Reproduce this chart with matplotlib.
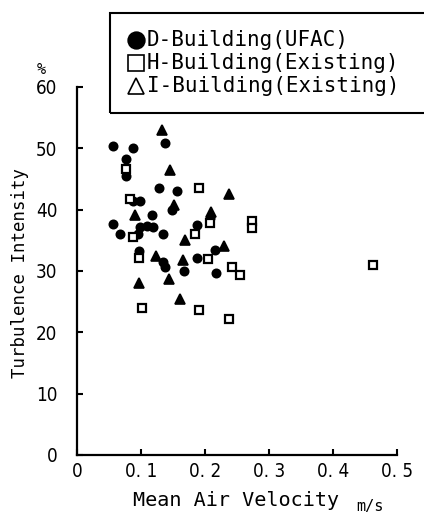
import matplotlib
matplotlib.use("Agg")
import matplotlib.pyplot as plt
from matplotlib.patches import Rectangle
from matplotlib.lines import Line2D

# ---- data ----
d_x = [0.056, 0.087, 0.076, 0.076, 0.1375, 0.128, 0.156, 0.088, 0.098, 0.117,
       0.148, 0.056, 0.067, 0.098, 0.109, 0.118, 0.096, 0.135, 0.097, 0.135,
       0.1375, 0.167, 0.187, 0.208, 0.216, 0.187, 0.217]
d_y = [50.3, 50.0, 48.2, 45.5, 50.8, 43.5, 43.0, 41.4, 41.4, 39.1,
       40.0, 37.6, 36.1, 37.2, 37.4, 37.2, 36.1, 36.0, 33.2, 31.4,
       30.7, 30.0, 37.5, 38.6, 33.5, 32.2, 29.6]

h_x = [0.076, 0.083, 0.087, 0.097, 0.101, 0.190, 0.184, 0.205, 0.273, 0.273,
       0.242, 0.254, 0.191, 0.237, 0.463, 0.208]
h_y = [46.7, 41.8, 35.6, 32.1, 23.9, 43.5, 36.0, 31.9, 38.1, 37.0,
       30.6, 29.3, 23.6, 22.1, 31.0, 37.8]

i_x = [0.133, 0.146, 0.091, 0.152, 0.209, 0.238, 0.169, 0.229, 0.124, 0.166,
       0.097, 0.144, 0.161]
i_y = [53.0, 46.5, 39.1, 40.8, 39.7, 42.5, 35.1, 34.1, 32.5, 31.8,
       28.1, 28.7, 25.5]

x_ticks = [0, 0.1, 0.2, 0.3, 0.4, 0.5]
x_ticklabels = ["0", "0. 1", "0. 2", "0. 3", "0. 4", "0. 5"]
y_ticks = [0, 10, 20, 30, 40, 50, 60]
y_ticklabels = ["0", "10", "20", "30", "40", "50", "60"]
legend_labels = ["D-Building(UFAC)", "H-Building(Existing)", "I-Building(Existing)"]

mono = "DejaVu Sans Mono"

fig = plt.figure(figsize=(4.24, 5.15), dpi=100)
ax = fig.add_axes([77 / 424, 1 - 455 / 515, 320 / 424, 368 / 515])

ax.plot(d_x, d_y, "o", ms=6, mfc="black", mec="black", mew=1.2, ls="none", clip_on=False)
ax.plot(h_x, h_y, "s", ms=5.5, mfc="white", mec="black", mew=1.6, ls="none", clip_on=False)
ax.plot(i_x, i_y, "^", ms=6.5, mfc="black", mec="black", mew=1.2, ls="none", clip_on=False)

ax.set_xlim(0, 0.5)
ax.set_ylim(0, 60)
for s in ["top", "right"]:
    ax.spines[s].set_visible(False)
for s in ["left", "bottom"]:
    ax.spines[s].set_linewidth(1.6)

ax.set_xticks(x_ticks)
ax.set_xticklabels(x_ticklabels, family="DejaVu Sans", stretch="condensed", fontsize=13.5)
ax.set_yticks(y_ticks)
ax.set_yticklabels(y_ticklabels, family="DejaVu Sans", stretch="condensed", fontsize=13.5)
ax.tick_params(axis="x", direction="in", length=4, width=1.5, pad=5)
ax.tick_params(axis="y", direction="in", length=4, width=1.5, pad=14)

fig.text(20 / 424, 1 - 273 / 515, "Turbulence Intensity", rotation=90,
         ha="center", va="center", family=mono, fontsize=12.5)
fig.text(236 / 424, 1 - 500 / 515, "Mean Air Velocity", ha="center", va="center",
         family=mono, fontsize=14.5)
fig.text(370 / 424, 1 - 506 / 515, "m/s", ha="center", va="center",
         family=mono, fontsize=11)
fig.text(41 / 424, 1 - 69 / 515, "%", ha="center", va="center",
         family=mono, fontsize=11)

# legend box
fig.patches.append(Rectangle((110 / 424, 1 - 113 / 515), 0.9, 100 / 515,
                             transform=fig.transFigure, fill=False,
                             lw=1.5, ec="black"))
markers = [("o", "black"), ("s", "white"), ("^", "white")]
rows_y = [40, 63, 86]
for (m, fc), lab, yy in zip(markers, legend_labels, rows_y):
    fig.add_artist(Line2D([136 / 424], [1 - yy / 515], marker=m, ms=12,
                          mfc=fc, mec="black", mew=1.2, ls="none",
                          transform=fig.transFigure))
    fig.text(147 / 424, 1 - yy / 515, lab, ha="left", va="center",
             family=mono, fontsize=15)

fig.savefig("out.png", dpi=100)
